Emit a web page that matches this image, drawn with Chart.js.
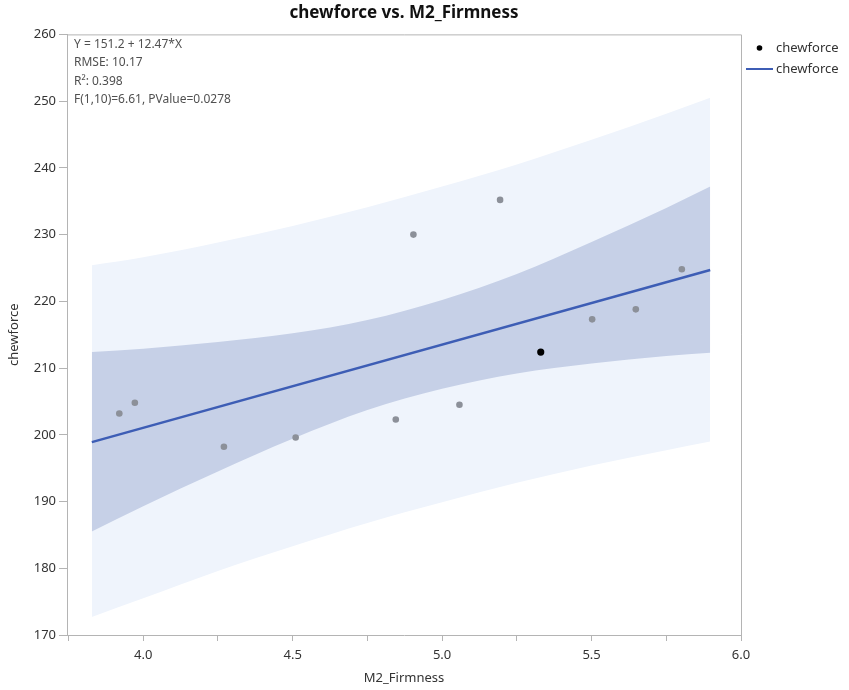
<!DOCTYPE html>
<html>
<head>
<meta charset="utf-8">
<script src="https://cdn.jsdelivr.net/npm/chart.js@4.4.1/dist/chart.umd.min.js"></script>
<style>
  body { margin: 0; background: #fff; }
  canvas { display: block; }
</style>
</head>
<body>
<canvas id="fitChart" width="849" height="690"></canvas>
<script>
// ===== chewforce vs. M2_Firmness =====

// Observations
const firmness = [3.920, 3.972, 4.270, 4.510, 4.845, 4.904, 5.058, 5.194, 5.330, 5.502, 5.648, 5.802];
const chewforce = [203.2, 204.8, 198.2, 199.6, 202.3, 230.0, 204.5, 235.2, 212.4, 217.3, 218.8, 224.8];
const highlighted = 8; // selected row shown in black

// Fitted line end points
const fitX = [3.828, 5.897];
const fitY = [198.9, 224.7];

// Confidence bands
const bandX = [3.828, 4.0, 4.25, 4.5, 4.75, 5.0, 5.25, 5.5, 5.75, 5.897];
const meanUpper = [212.4, 212.9, 213.9, 215.2, 217.2, 220.2, 224.1, 228.9, 234.0, 237.2];
const meanLower = [185.5, 189.3, 194.5, 199.4, 203.7, 206.9, 209.2, 210.7, 211.8, 212.3];
const predUpper = [225.4, 226.6, 228.8, 231.3, 234.1, 237.2, 240.5, 244.2, 248.1, 250.5];
const predLower = [172.7, 175.5, 179.6, 183.3, 186.8, 189.9, 192.8, 195.4, 197.7, 199.0];

// Axes
const xMin = 3.745, xMax = 6.0;
const yMin = 170, yMax = 260;

const statLines = [
  "Y = 151.2 + 12.47*X",
  "RMSE: 10.17",
  "R\u00B2: 0.398",
  "F(1,10)=6.61, PValue=0.0278"
];

const FONT = "'Noto Sans', 'Open Sans', sans-serif";
const LINE_BLUE = "#3d5db5";
const MEAN_FILL = "#c6d0e7";
const PRED_FILL = "#eff4fc";

const pairs = (xs, ys) => xs.map((x, i) => ({ x: x, y: ys[i] }));

// Frame, stats text and legend
const decorations = {
  id: "decorations",
  afterDraw(chart) {
    const ctx = chart.ctx;
    const a = chart.chartArea;
    ctx.save();
    ctx.strokeStyle = "#b4b4b4";
    ctx.lineWidth = 1;
    ctx.beginPath();
    ctx.moveTo(a.left, a.top + 0.5);
    ctx.lineTo(a.right + 0.5, a.top + 0.5);
    ctx.lineTo(a.right + 0.5, a.bottom);
    ctx.stroke();

    ctx.fillStyle = "#505050";
    ctx.font = "12px " + FONT;
    ctx.textBaseline = "middle";
    statLines.forEach((t, i) => ctx.fillText(t, a.left + 7, a.top + 10 + i * 18.5));

    // legend
    ctx.fillStyle = "#000";
    ctx.beginPath();
    ctx.arc(759.5, 48, 2.8, 0, Math.PI * 2);
    ctx.fill();
    ctx.strokeStyle = LINE_BLUE;
    ctx.lineWidth = 2;
    ctx.beginPath();
    ctx.moveTo(746, 69);
    ctx.lineTo(773, 69);
    ctx.stroke();
    ctx.fillStyle = "#333";
    ctx.font = "13px " + FONT;
    ctx.fillText("chewforce", 776, 48);
    ctx.fillText("chewforce", 776, 69);
    ctx.restore();
  }
};

new Chart(document.getElementById("fitChart"), {
  type: "scatter",
  data: {
    datasets: [
      {
        data: pairs(bandX, predUpper), type: "line", showLine: true,
        borderWidth: 0, pointRadius: 0, tension: 0.4, cubicInterpolationMode: "monotone",
        backgroundColor: PRED_FILL, fill: "+1", order: 5
      },
      {
        data: pairs(bandX, predLower), type: "line", showLine: true,
        borderWidth: 0, pointRadius: 0, tension: 0.4, cubicInterpolationMode: "monotone",
        fill: false, order: 5
      },
      {
        data: pairs(bandX, meanUpper), type: "line", showLine: true,
        borderWidth: 0, pointRadius: 0, tension: 0.4, cubicInterpolationMode: "monotone",
        backgroundColor: MEAN_FILL, fill: "+1", order: 4
      },
      {
        data: pairs(bandX, meanLower), type: "line", showLine: true,
        borderWidth: 0, pointRadius: 0, tension: 0.4, cubicInterpolationMode: "monotone",
        fill: false, order: 4
      },
      {
        data: pairs(fitX, fitY), type: "line", showLine: true,
        borderColor: LINE_BLUE, borderWidth: 2.5, pointRadius: 0, fill: false, order: 2
      },
      {
        data: pairs(firmness, chewforce),
        pointRadius: firmness.map((_, i) => i === highlighted ? 3.6 : 3.3),
        pointBackgroundColor: firmness.map((_, i) => i === highlighted ? "#000" : "#8c9099"),
        pointBorderWidth: 0, order: 1
      }
    ]
  },
  options: {
    responsive: false,
    animation: false,
    layout: { padding: { left: 0, right: 108, top: 0, bottom: 0 } },
    plugins: {
      legend: { display: false },
      tooltip: { enabled: false },
      title: {
        display: true,
        text: "chewforce vs. M2_Firmness",
        fullSize: false,
        color: "#111",
        font: { family: FONT, size: 17, weight: "bold" },
        padding: { top: 3, bottom: 11 }
      }
    },
    scales: {
      x: {
        type: "linear",
        min: xMin, max: xMax,
        afterFit: (scale) => { scale.height = 55; },
        border: { color: "#b4b4b4" },
        grid: { drawOnChartArea: false, tickLength: 6, color: "#b4b4b4" },
        ticks: {
          stepSize: 0.25, includeBounds: false, autoSkip: false, maxRotation: 0,
          color: "#333", font: { family: FONT, size: 13 }, padding: 6,
          callback: (v) => Math.abs(v * 2 - Math.round(v * 2)) < 1e-6 ? v.toFixed(1) : ""
        },
        title: {
          display: true, text: "M2_Firmness", color: "#333",
          font: { family: FONT, size: 13 }, padding: { top: 0, bottom: 4 }
        }
      },
      y: {
        min: yMin, max: yMax,
        afterFit: (scale) => { scale.width = 67; },
        border: { color: "#b4b4b4" },
        grid: { drawOnChartArea: false, tickLength: 8, color: "#b4b4b4" },
        ticks: { stepSize: 10, color: "#333", font: { family: FONT, size: 13 }, padding: 3 },
        title: {
          display: true, text: "chewforce", color: "#333",
          font: { family: FONT, size: 13 }, padding: { top: 6, bottom: 0 }
        }
      }
    }
  },
  plugins: [decorations]
});
</script>
</body>
</html>
